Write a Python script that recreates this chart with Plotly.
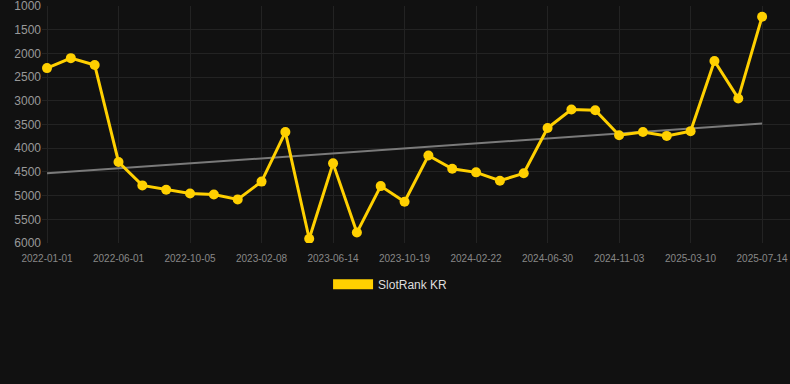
import numpy as np
import plotly.graph_objects as go

dates = [
    "2022-01-01", "2022-02-20", "2022-04-11", "2022-06-01", "2022-07-13", "2022-08-24",
    "2022-10-05", "2022-11-16", "2022-12-28", "2023-02-08", "2023-03-22", "2023-05-03",
    "2023-06-14", "2023-07-26", "2023-09-07", "2023-10-19", "2023-11-30", "2024-01-11",
    "2024-02-22", "2024-04-05", "2024-05-18", "2024-06-30", "2024-08-11", "2024-09-22",
    "2024-11-03", "2024-12-15", "2025-01-26", "2025-03-10", "2025-04-21", "2025-06-02",
    "2025-07-14",
]
rank = [
    2310, 2100, 2245, 4290, 4785, 4875, 4955, 4975, 5080, 4705, 3660, 5910,
    4320, 5780, 4800, 5130, 4155, 4435, 4510, 4685, 4530, 3575, 3185, 3200,
    3725, 3660, 3740, 3640, 2160, 2950, 1225,
]
tick_labels = dates[::3]
trend_ends = [4530, 3480]

YELLOW = "#FFD000"
fig = go.Figure()

fig.add_trace(go.Scatter(
    x=[dates[0], dates[-1]], y=trend_ends, mode="lines",
    line=dict(color="#7a7a7a", width=2), showlegend=False, hoverinfo="skip",
))
fig.add_trace(go.Scatter(
    x=dates, y=rank, mode="lines+markers", name="SlotRank KR",
    line=dict(color=YELLOW, width=3), marker=dict(color=YELLOW, size=10),
    showlegend=False,
))
fig.add_trace(go.Scatter(
    x=[None], y=[None], mode="lines", name="SlotRank KR",
    line=dict(color=YELLOW, width=12), showlegend=True,
))

fig.update_layout(
    width=790, height=384,
    paper_bgcolor="#111111", plot_bgcolor="#111111",
    margin=dict(l=42, r=0, t=6, b=141),
    font=dict(family="Liberation Sans, Arial, sans-serif", color="#888888"),
    showlegend=True,
    legend=dict(orientation="h", x=0.466, xanchor="center", y=-0.113, yanchor="top",
                font=dict(size=12, color="#dddddd"), itemwidth=40,
                bgcolor="rgba(0,0,0,0)"),
    xaxis=dict(
        type="category", categoryorder="array", categoryarray=dates,
        range=[-0.21, 31.17],
        tickmode="array", tickvals=tick_labels, ticktext=tick_labels,
        showgrid=True, gridcolor="#232323", gridwidth=1,
        zeroline=False, showline=False, ticks="",
        tickfont=dict(size=10, color="#888888"),
        ticklabelstandoff=8, ticklabeloverflow="allow",
    ),
    yaxis=dict(
        range=[6000, 1000], tickmode="array",
        tickvals=[1000, 1500, 2000, 2500, 3000, 3500, 4000, 4500, 5000, 5500, 6000],
        showgrid=True, gridcolor="#232323", gridwidth=1,
        zeroline=False, showline=False, ticks="",
        tickfont=dict(size=12, color="#999999"),
        ticklabeloverflow="allow",
    ),
)

fig.write_html("out.html", config={"displayModeBar": False})
with open("out.html", encoding="utf-8") as f:
    html = f.read()
html = html.replace("<head>", "<head><style>html,body{margin:0;padding:0;background:#111111;overflow:hidden}</style>", 1)
with open("out.html", "w", encoding="utf-8") as f:
    f.write(html)
